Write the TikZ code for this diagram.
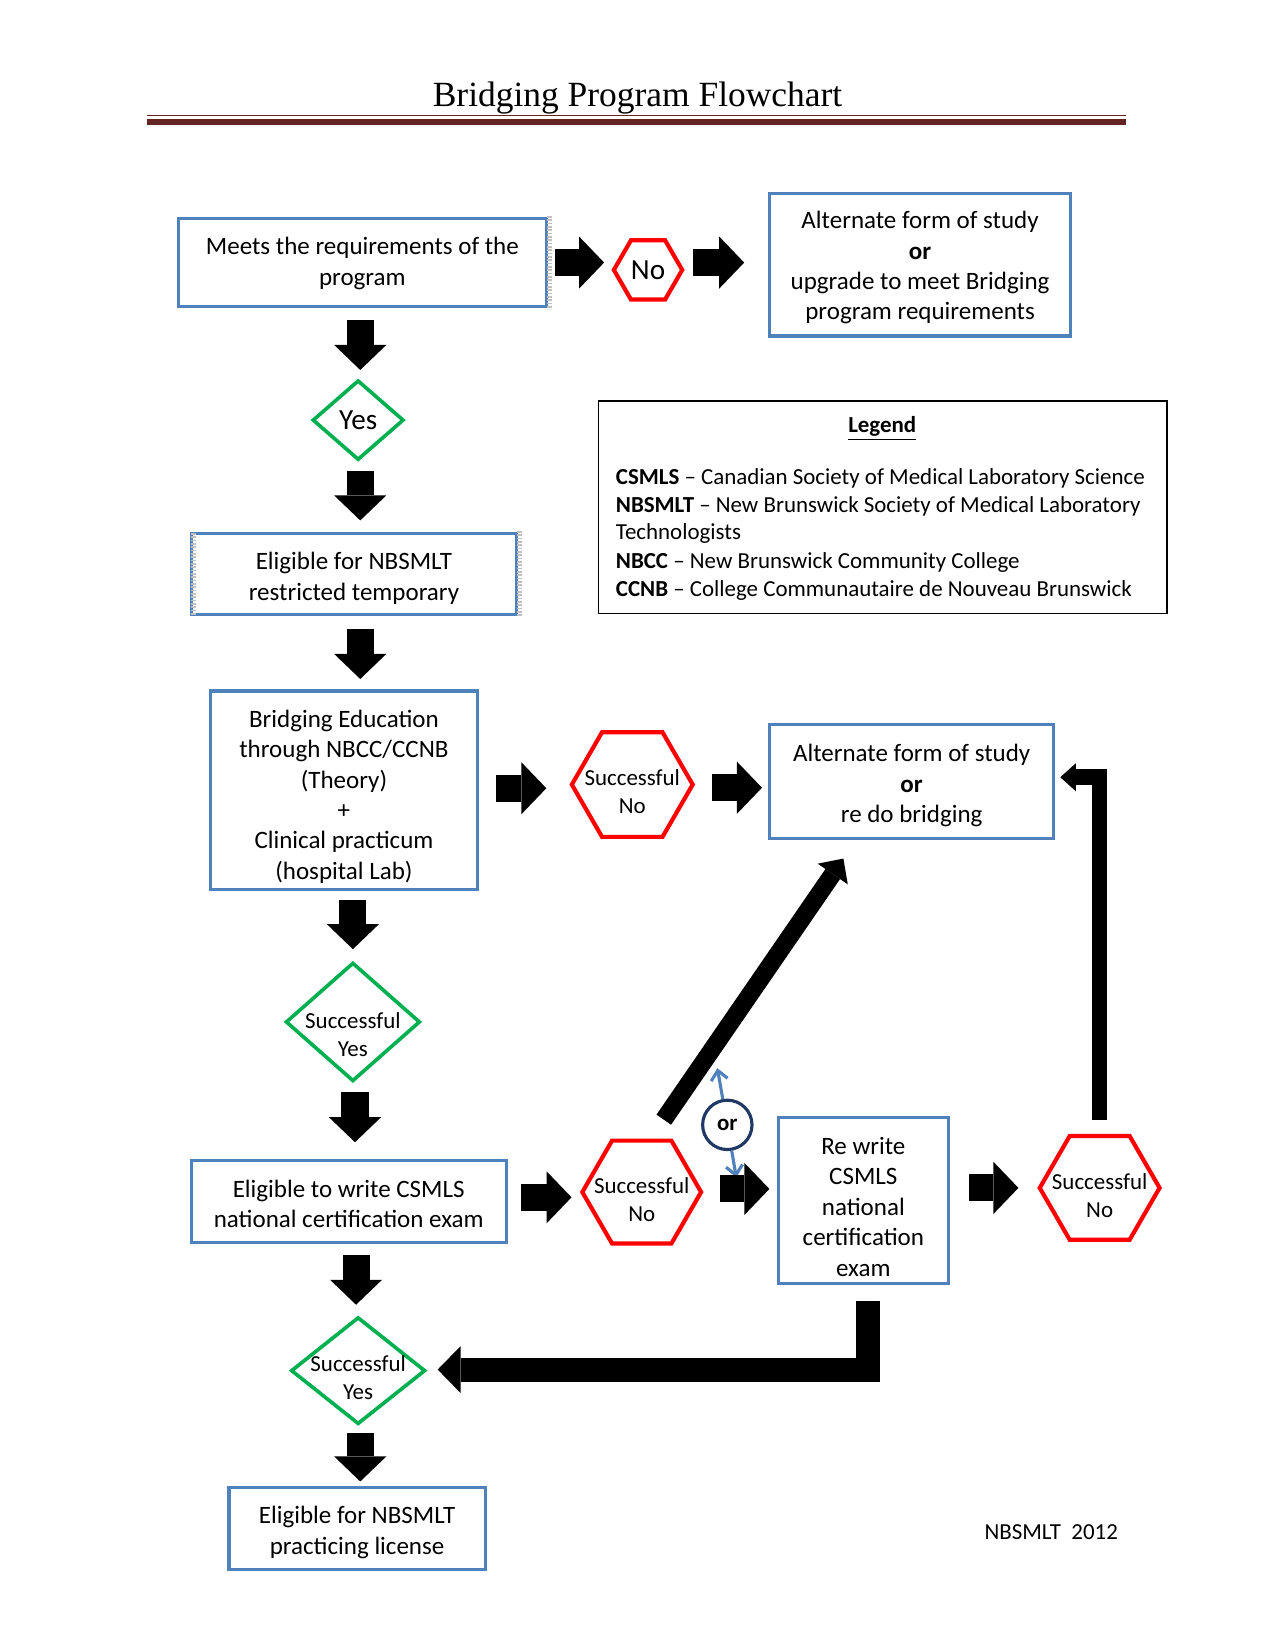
\documentclass[tikz,border=0pt]{standalone}
\usepackage{fontspec}
\setmainfont{Carlito}
\newfontfamily\titlefont{Liberation Serif}
\usetikzlibrary{shapes.geometric,arrows.meta,calc}
\definecolor{boxblue}{HTML}{4F81BD}
\definecolor{hexred}{HTML}{FF0000}
\definecolor{dgreen}{HTML}{00B050}
\definecolor{titlered}{HTML}{632423}
\definecolor{navy}{HTML}{1F3864}
\begin{document}
\begin{tikzpicture}[x=0.504pt,y=-0.504pt,
  box/.style={draw=boxblue, line width=1.5pt, inner sep=0pt},
  btxt/.style={align=center, inner sep=0pt, yshift=-2pt, font=\fontsize{12}{14.6}\selectfont},
  hexa/.style={regular polygon, regular polygon sides=6, draw=hexred,
    line width=2pt, inner sep=0pt},
  dia/.style={diamond, draw=dgreen, line width=1.75pt, inner sep=0pt},
  lbl/.style={align=center, inner sep=0pt, yshift=-3.5pt, font=\fontsize{11}{13.4}\selectfont},
  biglbl/.style={align=center, inner sep=0pt, font=\fontsize{14}{17}\selectfont},
  leg/.style={anchor=base west, inner sep=0pt, font=\fontsize{11}{13.4}\selectfont},
  blk/.style={line width=13pt, -{Triangle[width=25pt,length=12pt,line width=0pt]}},
  diag/.style={line width=8.5pt, -{Triangle[width=17.5pt,length=9pt,line width=0pt]}},
  elbowE/.style={line width=7.5pt, line join=miter, -{Triangle[width=13.5pt,length=7.5pt,line width=0pt]}},
  elbowB/.style={line width=11.5pt, line join=miter, -{Triangle[width=22.5pt,length=11pt,line width=0pt]}},
  bluearr/.style={draw=boxblue, line width=1.5pt, -{Straight Barb[length=4.5pt,width=8pt]}},
  hatch/.style={draw=gray!50, line width=2.5pt, dash pattern=on 0.8pt off 0.8pt},
]
\useasboundingbox (0,0) rectangle (1214,1571);

% title
\node[font=\titlefont\fontsize{17}{20}\selectfont, anchor=base, inner sep=0pt] (title) at (607,101) {Bridging Program Flowchart};
\draw[titlered, line width=0.75pt] (140,110) -- (1072,110);
\draw[titlered, line width=2.6pt] (140,116) -- (1072,116);

% boxes
\node[box, minimum width=176.4pt, minimum height=42.3pt, label={[btxt, yshift=1.5pt]center:Meets the requirements of the\\program}] (A) at (345,250) {};
\node[box, minimum width=144.1pt, minimum height=68.5pt, label={[btxt, yshift=0.5pt]center:Alternate form of study\\\textbf{or}\\upgrade to meet Bridging\\program requirements}] (B) at (876,252) {};
\node[box, minimum width=156.2pt, minimum height=38.8pt, label={[btxt]center:Eligible for NBSMLT\\restricted temporary}] (C) at (337,546.5) {};
\node[box, minimum width=128.5pt, minimum height=95.3pt, label={[btxt, yshift=-1pt]center:Bridging Education\\through NBCC/CCNB\\(Theory)\\+\\Clinical practicum\\(hospital Lab)}] (D) at (327.5,752.5) {};
\node[box, minimum width=136.1pt, minimum height=54.4pt, label={[btxt]center:Alternate form of study\\\textbf{or}\\re do bridging}] (E) at (868,744) {};
\node[box, minimum width=151.2pt, minimum height=39.3pt, label={[btxt, yshift=0.8pt]center:Eligible to write CSMLS\\national certification exam}] (F) at (332,1144) {};
\node[box, minimum width=81.6pt, minimum height=79.6pt, label={[btxt, yshift=-1pt]center:Re write\\CSMLS\\national\\certification\\exam}] (G) at (822,1143) {};
\node[box, minimum width=123pt, minimum height=39.3pt, label={[btxt]center:Eligible for NBSMLT\\practicing license}] (H) at (340,1455) {};

% hatched frame edges
\draw[hatch] ($(A.north east)+(2,-1)$) -- ($(A.south east)+(2,1)$);
\draw[hatch] ($(C.north west)+(4,1)$) -- ($(C.south west)+(4,-1)$);
\draw[hatch] ($(C.north east)+(1,-1)$) -- ($(C.south east)+(1,1)$);

% hexagons
\node[hexa, minimum size=32.8pt, label={[biglbl]center:No}] (h1) at (617,257) {};
\node[hexa, minimum size=58pt, label={[lbl]center:Successful\\No}] (h2) at (602,747) {};
\node[hexa, minimum size=57pt, label={[lbl]center:Successful\\No}] (h3) at (611,1135) {};
\node[hexa, minimum size=57.5pt, label={[lbl]center:Successful\\No}] (h4) at (1047,1131) {};

% diamonds
\node[dia, minimum width=43.8pt, minimum height=38.3pt, label={[biglbl]center:Yes}] (d1) at (341,400) {};
\node[dia, minimum width=64.5pt, minimum height=57pt, label={[lbl, yshift=-2.5pt]center:Successful\\Yes}] (d2) at (336,973) {};
\node[dia, minimum width=64.5pt, minimum height=51.4pt, label={[lbl]center:Successful\\Yes}] (d3) at (341,1305) {};

% legend
\node[draw=black, line width=0.75pt, minimum width=272.7pt, minimum height=101.8pt, inner sep=0pt] (legend) at (840.5,483) {};
\node[inner sep=0pt, font=\bfseries\fontsize{11}{13.4}\selectfont] (leghead) at (840,408) {\underline{Legend}};
\node[leg] (leg1) at (586,461) {\textbf{CSMLS} – Canadian Society of Medical Laboratory Science};
\node[leg] (leg2) at (586,488) {\textbf{NBSMLT} – New Brunswick Society of Medical Laboratory};
\node[leg] (leg3) at (586,514) {Technologists};
\node[leg] (leg4) at (586,541) {\textbf{NBCC} – New Brunswick Community College};
\node[leg] (leg5) at (586,568) {\textbf{CCNB} – College Communautaire de Nouveau Brunswick};

% footer
\node[leg] (footer) at (937,1466) {NBSMLT\ \ 2012};

% "or" circle
\node[circle, draw=navy, line width=1.5pt, minimum size=23.7pt, inner sep=0pt,
  font=\bfseries\fontsize{11}{13}\selectfont] (or) at (692.5,1071) {or};
\coordinate (orup) at (683,1017);
\coordinate (ordn) at (701,1121);
\draw[bluearr] (or) -- (orup);
\draw[bluearr] (or) -- (ordn);

% vertical block arrows
\draw[blk] ($(A.south)+(-2,11)$) -- ($(A.south |- d1.north)+(-2,-8)$);
\draw[blk] ($(d1.south)+(2,9)$) -- ($(d1.south |- C.north)+(2,-11)$);
\draw[blk] ($(C.south)+(6,12)$) -- ($(C.south |- D.north)+(6,-10)$);
\draw[blk] ($(d2.north |- D.south)+(0,8)$) -- ($(d2.north)+(0,-11)$);
\draw[blk] ($(d2.south)+(2,8)$) -- ($(d2.south |- F.north)+(2,-16)$);
\draw[blk] ($(d3.north |- F.south)+(-2,10)$) -- ($(d3.north)+(-2,-10)$);
\draw[blk] ($(d3.south)+(2,7)$) -- ($(d3.south |- H.north)+(2,-4)$);

% horizontal block arrows
\draw[blk] ($(A.east)+(7,0)$) -- ($(A.east -| h1.west)+(-7,0)$);
\draw[blk] ($(A.east -| h1.east)+(8,0)$) -- ($(A.east -| B.west)+(-23,0)$);
\draw[blk] ($(D.east)+(16,-2)$) -- ($(D.east -| h2.west)+(-22,-2)$);
\draw[blk] ($(h2.east)+(16,3)$) -- ($(h2.east -| E.west)+(-6,3)$);
\draw[blk] ($(F.east)+(13,-4)$) -- ($(F.east -| h3.west)+(-8,-4)$);
\draw[blk] ($(h3.east)+(16,-3)$) -- ($(h3.east -| G.west)+(-7,-3)$);
\draw[blk] ($(h4.west -| G.east)+(18,0)$) -- ($(h4.west)+(-18,0)$);

% long connectors
\draw[elbowE] ($(h4.north)+(0,-13)$) |- ($(E.east)+(5,-4)$);
\draw[diag] ($(h3.north)+(21,-18)$) -- ($(E.south)+(-65,18)$);
\draw[elbowB] ($(G.south)+(4.5,15)$) |- ($(d3.east)+(10,-1)$);
\end{tikzpicture}
\end{document}
